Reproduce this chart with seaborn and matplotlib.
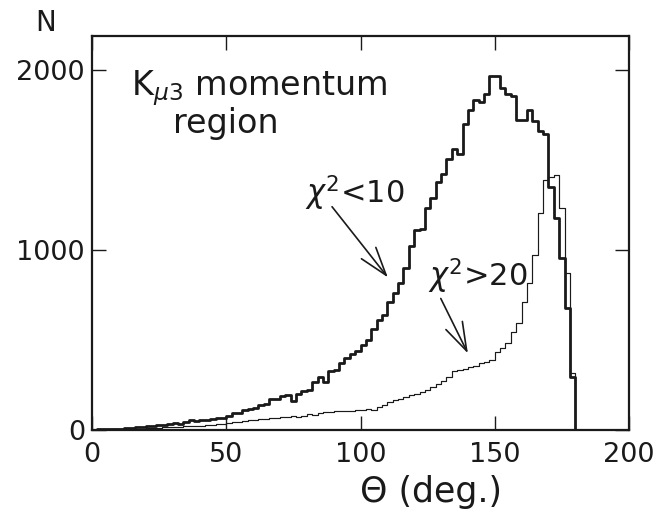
import numpy as np
import pandas as pd
import matplotlib
matplotlib.use("Agg")
import matplotlib.pyplot as plt
import seaborn as sns

# Opening-angle histogram, 2-degree bins; the last bin (180-182) is empty
bin_edges = list(range(0, 184, 2))

chi2_low = [  # chi^2 < 10
    2, 3, 4, 5, 6, 8, 10, 12, 15, 18,
    20, 24, 28, 26, 32, 38, 36, 45, 55, 50,
    58, 56, 62, 66, 68, 80, 94, 92, 110, 116,
    120, 140, 145, 170, 172, 190, 192, 160, 200, 215,
    220, 265, 295, 265, 330, 335, 370, 400, 420, 440,
    470, 500, 560, 610, 640, 713, 760, 815, 900, 1020,
    1110, 1120, 1235, 1290, 1380, 1425, 1505, 1560, 1535, 1700,
    1780, 1835, 1825, 1865, 1965, 1965, 1900, 1870, 1855, 1725,
    1725, 1780, 1715, 1660, 1645, 1350, 1180, 955, 680, 295,
    0,
]

chi2_high = [  # chi^2 > 20
    1, 1, 2, 2, 3, 4, 5, 6, 7, 8,
    10, 11, 12, 14, 15, 17, 18, 20, 22, 24,
    25, 28, 30, 32, 36, 38, 45, 44, 50, 54,
    58, 60, 62, 64, 66, 70, 72, 76, 74, 80,
    88, 86, 92, 98, 100, 104, 106, 108, 106, 110,
    110, 115, 112, 130, 140, 155, 165, 170, 185, 192,
    200, 212, 225, 240, 255, 270, 295, 330, 335, 340,
    350, 355, 370, 380, 390, 435, 455, 485, 545, 595,
    710, 815, 970, 1205, 1390, 1405, 1415, 1235, 870, 316,
    0,
]

centers = [(a + b) / 2 for a, b in zip(bin_edges[:-1], bin_edges[1:])]
df = pd.DataFrame({
    "theta": centers * 2,
    "count": chi2_low + chi2_high,
    "cut": ["low"] * len(chi2_low) + ["high"] * len(chi2_high),
})

sns.set_theme(style="ticks")
plt.rcParams["font.family"] = ["DejaVu Sans"]
plt.rcParams["mathtext.fontset"] = "dejavusans"

ink = "#1a1a1a"
fig = plt.figure(figsize=(6.57, 5.12), dpi=100)
ax = fig.add_axes([92 / 657, 82 / 512, 537 / 657, 394 / 512])

sns.histplot(data=df[df.cut == "low"], x="theta", weights="count", bins=bin_edges,
             element="step", fill=False, color=ink, linewidth=2.0, ax=ax)
sns.histplot(data=df[df.cut == "high"], x="theta", weights="count", bins=bin_edges,
             element="step", fill=False, color=ink, linewidth=0.85, ax=ax)

ax.set_xlim(0, 200)
ax.set_ylim(0, 2190)
ax.set_xticks([0, 50, 100, 150, 200])
ax.set_yticks([0, 1000, 2000])
ax.set_xlabel("")
ax.set_ylabel("")
ax.tick_params(direction="in", top=True, right=True, length=10, width=1.0,
               colors=ink, labelsize=19.5, pad=5)
ax.tick_params(axis="x", pad=9)
for s in ax.spines.values():
    s.set_linewidth(1.6)
    s.set_color(ink)

fig.text(46 / 657, 1 - 23 / 512, "N", fontsize=20, color=ink, ha="center", va="center")
fig.text(431 / 657, 1 - 492 / 512, "Θ (deg.)", fontsize=25, color=ink, ha="center", va="center")

ax.text(14.5, 1861, r"K$_{\mu3}$ momentum", fontsize=24, color=ink, va="baseline", ha="left")
ax.text(30, 1650, "region", fontsize=24, color=ink, va="baseline", ha="left")

arrow = dict(arrowstyle="->,head_length=1.7,head_width=0.55", color=ink, lw=1.2,
             shrinkA=0, shrinkB=0)

ax.text(79.5, 1261, r"$\chi^2$<10", fontsize=22, color=ink, va="baseline", ha="left")
ax.annotate("", xy=(110.2, 848), xytext=(89.4, 1241), arrowprops=arrow)

ax.text(125, 796, r"$\chi^2$>20", fontsize=22, color=ink, va="baseline", ha="left")
ax.annotate("", xy=(140, 426), xytext=(129.9, 731), arrowprops=arrow)

fig.savefig("out.png", dpi=100)
